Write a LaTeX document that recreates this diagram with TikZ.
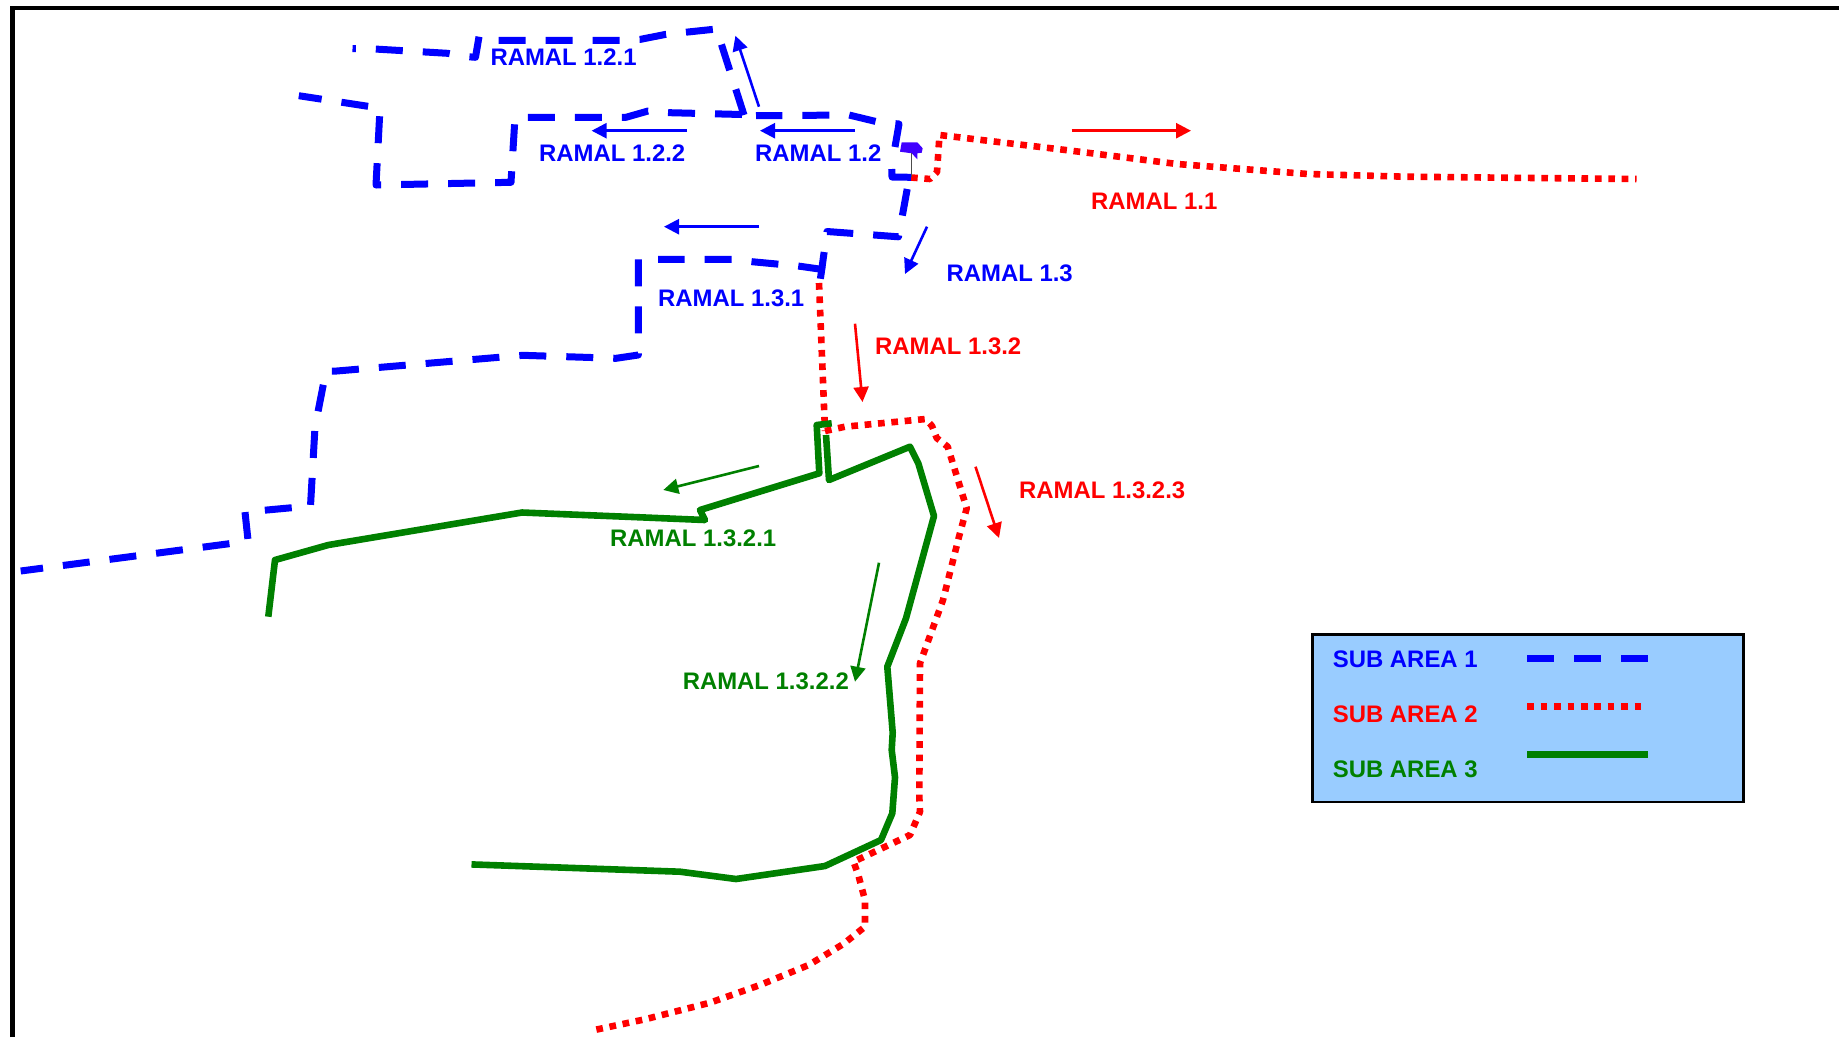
\documentclass[tikz,border=0pt]{standalone}
\usepackage{fontspec}
\setmainfont{Liberation Sans}
\usetikzlibrary{arrows.meta, positioning}

\definecolor{subazul}{HTML}{0000FF}
\definecolor{subrojo}{HTML}{FF0000}
\definecolor{subverde}{HTML}{008000}
\definecolor{fondoley}{HTML}{99CCFF}
\definecolor{mancha}{HTML}{4000FF}

\begin{document}
\begin{tikzpicture}[
            x=1pt, y=-1pt,
            every node/.style={inner sep=0pt, anchor=west},
            area1/.style={draw=subazul, line width=7pt, line join=round, dash pattern=on 27pt off 20pt},
            area2/.style={draw=subrojo, line width=6.6pt, line join=round, dash pattern=on 6.7pt off 6.7pt},
            area3/.style={draw=subverde, line width=6.6pt, line join=round},
            flow/.style={-{Triangle[length=15pt, width=15pt]}, line width=2.6pt},
            ramal/.style={font=\fontsize{23.9}{26}\selectfont\bfseries},
            sub/.style={font=\fontsize{23.9}{26}\selectfont\bfseries}
        ]
        \useasboundingbox (0, 0) rectangle (1839, 1037);

        \draw[line width=4.6pt] (12.3, 1037) -- (12.3, 8) -- (1839, 8);

        % sub area 2
        \draw[area2] (911, 177.5) -- (930, 179) -- (937, 172) -- (939.5, 135) -- (1065.6, 150) -- (1177, 164) -- (1308, 174) -- (1405, 176.7) -- (1636.5, 179);
        \draw[area2] (819, 283) -- (825, 431);
        \draw[area2] (825, 431) -- (845, 426.7) -- (925.7, 419) -- (932, 426) -- (936.7, 438) -- (947.7, 446.7) -- (966.7, 508.3) -- (959, 536.7) -- (943, 600) -- (920, 663.3) -- (919.3, 796.7) -- (920, 811.7) -- (910, 835) -- (853.5, 861.7) -- (858.3, 875) -- (865, 900) -- (865, 926.7) -- (843.3, 944) -- (808.7, 965) -- (760, 985) -- (710, 1002.7) -- (645, 1019.3) -- (592, 1030.5);

        % sub area 1
        \draw[area1] (911, 177.3) -- (892, 177) -- (891.7, 168);
        \draw[area1] (895, 147) -- (899, 124) -- (878, 122) -- (849, 115) -- (756, 115.7);
        \draw[area1] (744, 115) -- (716.5, 29) -- (666, 34.3) -- (640.7, 39.3) -- (620, 40.3) -- (496, 40.3);
        \draw[area1] (479, 36.7) -- (475.5, 57.3) -- (467.5, 56.7) -- (447.4, 53.3) -- (374.6, 49) -- (352.5, 48.7);
        \draw[area1] (742, 114.5) -- (670, 112.7) -- (648, 111) -- (626, 117.3) -- (515, 117.3) -- (511, 182.3) -- (376, 185) -- (380, 108.3) -- (370.6, 106.7) -- (298.8, 95.7);
        \draw[area1] (907.2, 189) -- (898.5, 236.8) -- (827, 231.5) -- (820, 281.7);
        \draw[area1] (825, 269.8) -- (798, 266) -- (752, 261.7) -- (732, 259.3) -- (658, 259.3);
        \draw[area1] (638.3, 259.3) -- (638.3, 355) -- (616, 358.3) -- (522.7, 355.3) -- (336.7, 371) -- (326, 371) -- (315, 427) -- (310.5, 506) -- (245, 512) -- (248, 540) -- (232.3, 543.3) -- (20.7, 571);

        \fill[mancha] (901.7, 142.3) -- (917.3, 142.3) -- (922.7, 148.3) -- (921.7, 152.7) -- (917.3, 153.3) -- (917.3, 159.3) -- (911.7, 153.3) -- (900, 151.7) -- cycle;
        \draw[line width=1pt, black!70] (911, 153) -- (911, 177);

        % sub area 3
        \draw[area3] (831.7, 423.3) -- (816.7, 425) -- (819.3, 473.3) -- (700, 510) -- (705, 520) -- (640, 517.3) -- (522, 512.5) -- (328.3, 545) -- (275, 560) -- (268.3, 616.7);
        \draw[area3] (826, 435) -- (829, 480) -- (910, 446.7) -- (918.3, 463.3) -- (934, 516) -- (906, 618.3) -- (887.3, 666.7) -- (892.7, 732.7) -- (891.7, 750) -- (895, 777.3) -- (892.3, 813.3) -- (881, 840) -- (825, 866) -- (736, 879) -- (680, 871.7) -- (471.5, 864.4);

        % direction arrows
        \coordinate (F121a) at (759, 106.7);   \coordinate (F121b) at (735.4, 35.7);
        \coordinate (F12a) at (855, 130.7);    \coordinate (F12b) at (760, 130.7);
        \coordinate (F122a) at (687, 130.7);   \coordinate (F122b) at (591.6, 130.7);
        \coordinate (F131a) at (759, 226.7);   \coordinate (F131b) at (664, 226.7);
        \coordinate (F13a) at (927, 226.7);    \coordinate (F13b) at (905, 274);
        \coordinate (F11a) at (1071.5, 130.7); \coordinate (F11b) at (1191, 130.7);
        \coordinate (F132a) at (855, 323.7);   \coordinate (F132b) at (862.5, 402);
        \coordinate (F1323a) at (975.5, 466.7); \coordinate (F1323b) at (999, 538);
        \coordinate (F1321a) at (759, 466);    \coordinate (F1321b) at (663.3, 490);
        \coordinate (F1322a) at (879, 562.7);  \coordinate (F1322b) at (855, 681.7);

        \draw[flow, subazul] (F121a) -- (F121b);
        \draw[flow, subazul] (F12a) -- (F12b);
        \draw[flow, subazul] (F122a) -- (F122b);
        \draw[flow, subazul] (F131a) -- (F131b);
        \draw[flow, subazul] (F13a) -- (F13b);
        \draw[flow, subrojo] (F11a) -- (F11b);
        \draw[flow, subrojo] (F132a) -- (F132b);
        \draw[flow, subrojo] (F1323a) -- (F1323b);
        \draw[flow, subverde] (F1321a) -- (F1321b);
        \draw[flow, subverde] (F1322a) -- (F1322b);

        % labels
        \node[ramal, text=subazul] (R121) at (490.3, 57.5) {RAMAL 1.2.1};
        \node[ramal, text=subazul] (R122) at (539, 153.5) {RAMAL 1.2.2};
        \node[ramal, text=subazul] (R12) at (755, 153.5) {RAMAL 1.2};
        \node[ramal, text=subrojo] (R11) at (1091, 201.5) {RAMAL 1.1};
        \node[ramal, text=subazul] (R13) at (946.4, 273.5) {RAMAL 1.3};
        \node[ramal, text=subazul] (R131) at (658, 298) {RAMAL 1.3.1};
        \node[ramal, text=subrojo] (R132) at (875, 346) {RAMAL 1.3.2};
        \node[ramal, text=subrojo] (R1323) at (1019, 490) {RAMAL 1.3.2.3};
        \node[ramal, text=subverde] (R1321) at (610, 538) {RAMAL 1.3.2.1};
        \node[ramal, text=subverde] (R1322) at (682.6, 681.5) {RAMAL 1.3.2.2};

        % legend
        \node[draw, line width=2.8pt, fill=fondoley, minimum width=431pt, minimum height=167.5pt] (leyenda) at (1311.3, 718.2) {};
        \node[sub, text=subazul] (S1) at (1332.7, 659) {SUB AREA 1};
        \node[sub, text=subrojo] (S2) at (1332.7, 714.5) {SUB AREA 2};
        \node[sub, text=subverde] (S3) at (1332.7, 769.3) {SUB AREA 3};
        \draw[area1] (1527.3, 658.7) -- (1648.5, 658.7);
        \draw[area2] (1527.3, 706.7) -- (1642, 706.7);
        \draw[area3] (1527.3, 754.7) -- (1647.7, 754.7);

\end{tikzpicture}
\end{document}
